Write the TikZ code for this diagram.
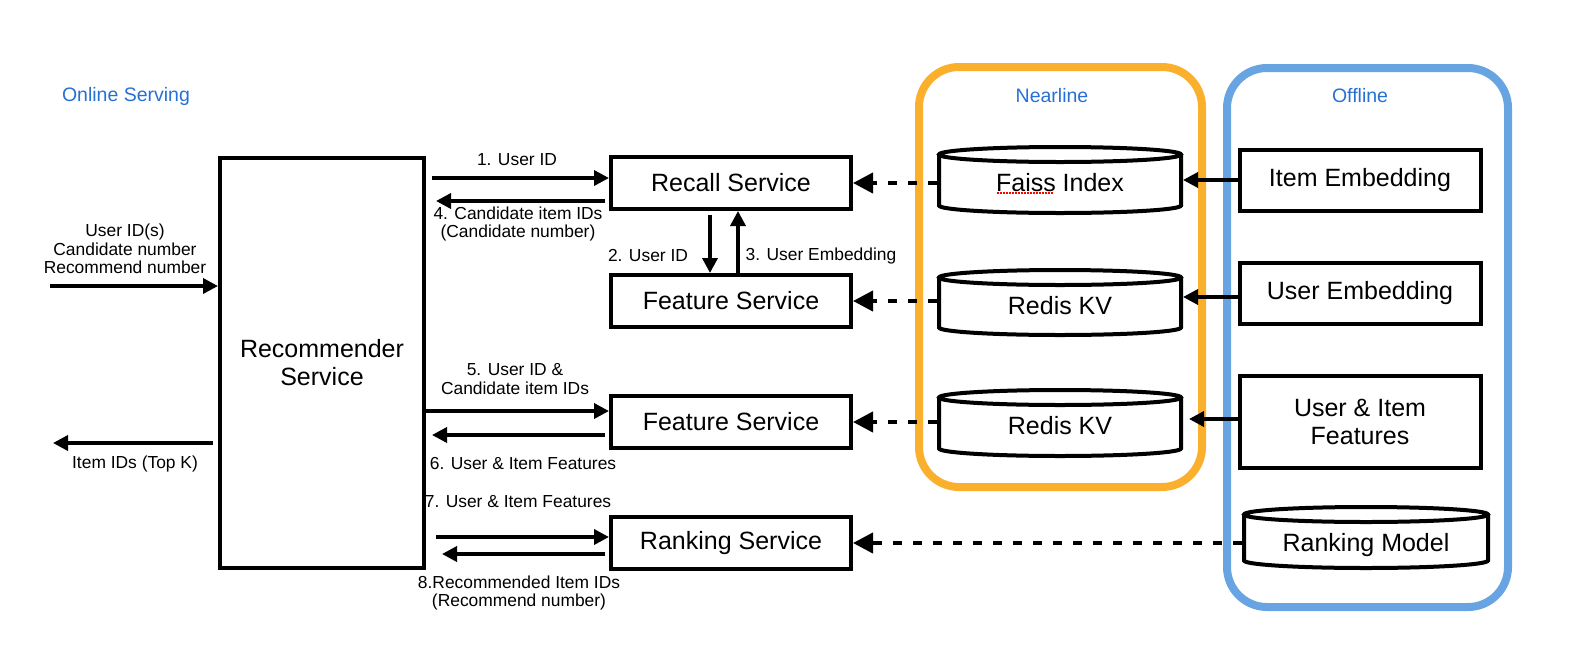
\documentclass[tikz,border=0pt]{standalone}
\usepackage{fontspec}
\setmainfont{Liberation Sans}
\usetikzlibrary{arrows.meta,calc}
\definecolor{hdrblue}{RGB}{38,112,212}
\definecolor{nearorange}{RGB}{250,176,45}
\definecolor{offblue}{RGB}{104,164,226}
% #1 name, #2 left, #3 right, #4 top, #5 bottom, #6 text offset, #7 text
\newcommand\dbcyl[7]{%
  \pgfmathsetmacro\cylcx{(#2+#3)/2}%
  \pgfmathsetmacro\cylrx{(#3-#2)/2}%
  \pgfmathsetmacro\cylcy{(#4+#5)/2+#6}%
  \pgfmathsetmacro\cylh{#5-#4}%
  \pgfmathsetmacro\cylw{#3-#2}%
  \draw[line width=4pt, fill=white] (#2,#4+7.5) -- (#2,#5-7.5) arc[start angle=180,end angle=360,x radius=\cylrx pt,y radius=7.5pt] -- (#3,#4+7.5);
  \draw[line width=4pt] (\cylcx,#4+7.5) ellipse[x radius=\cylrx pt, y radius=7.5pt];
  \node[cylt, minimum width=\cylw pt, minimum height=\cylh pt] (#1) at (\cylcx,\cylcy) {#7};
}
\begin{document}
\begin{tikzpicture}[x=1pt,y=-1pt,
  box/.style={draw, line width=4pt, minimum width=240pt, minimum height=52pt, inner sep=0pt, font=\fontsize{25}{28}\selectfont, align=center},
  cylt/.style={inner sep=0pt, outer sep=2pt, font=\fontsize{25}{28}\selectfont, align=center},
  lbl/.style={font=\fontsize{17.4}{18.5}\selectfont, align=center, inner sep=0pt},
  hdr/.style={font=\fontsize{19.5}{22}\selectfont, text=hdrblue, inner sep=0pt},
  arr/.style={line width=3.5pt, -{Triangle[length=15pt,width=15pt]}},
  darr/.style={line width=4pt, dash pattern=on 9pt off 11pt, -{Triangle[length=20pt,width=20pt]}},
]
\useasboundingbox (0,0) rectangle (1583,670);
% containers
\draw[nearorange, line width=8pt, rounded corners=40pt] (919,67) rectangle (1202,487);
\draw[offblue, line width=8pt, rounded corners=40pt] (1227,68) rectangle (1508,607);
% headers
\node[hdr] (hon) at (126,96) {Online Serving};
\node[hdr] (hnear) at (1052,96) {Nearline};
\node[hdr] (hoff) at (1360,96) {Offline};
% online nodes
\node[box, minimum width=204pt, minimum height=410pt] (rec) at (322,363) {Recommender\\Service};
\node[box] (recall) at (731,183) {Recall Service};
\node[box] (feat1) at (731,301) {Feature Service};
\node[box] (feat2) at (731,422) {Feature Service};
\node[box] (rank) at (731,543) {Ranking Service};
% nearline
\dbcyl{faiss}{939}{1181}{147}{213}{3}{Faiss Index}
\dbcyl{redisa}{939}{1181}{270}{335}{3}{Redis KV}
\dbcyl{redisb}{939}{1181}{390}{456}{3}{Redis KV}
\draw[red, line width=1.2pt, dash pattern=on 1.5pt off 1.5pt] (997,193) -- (1054,193);
% offline
\node[box, minimum width=241pt, minimum height=61pt] (itememb) at (1360,180) {Item Embedding};
\node[box, minimum width=241pt, minimum height=61pt] (useremb) at (1360,293) {User Embedding};
\node[box, minimum width=241pt, minimum height=92pt] (uifeat) at (1360,422) {User \& Item\\Features};
\dbcyl{rmodel}{1244}{1488}{507}{568}{8}{Ranking Model}
% input / output
\coordinate (inS) at (50,286);
\draw[arr] (inS) -- (inS -| rec.west);
\node[lbl] (inlbl) at (125,249) {User ID(s)\\Candidate number\\Recommend number};
\coordinate (outE) at (53,443);
\draw[arr] ([xshift=-5pt]outE -| rec.west) -- (outE);
\node[lbl] (outlbl) at (135,464) {Item IDs (Top K)};
% 1 and 4
\coordinate (a1) at (432,178);
\draw[arr] (a1) -- (a1 -| recall.west);
\node[lbl] (l1) at (517,160) {1. User ID};
\coordinate (a4) at (436,201);
\draw[arr] ([xshift=-4pt]a4 -| recall.west) -- (a4);
\node[lbl] (l4) at (518,224) {4. Candidate item IDs\\(Candidate number)};
% 2 and 3
\coordinate (x2) at (710,0);
\coordinate (x3) at (738,0);
\draw[arr] ([yshift=-4pt]recall.south -| x2) -- (feat1.north -| x2);
\draw[arr] (feat1.north -| x3) -- (recall.south -| x3);
\node[lbl] (l2) at (648,256) {2. User ID};
\node[lbl] (l3) at (821,256) {3. User Embedding};
% 5 and 6
\coordinate (a5) at (0,411);
\draw[arr] (a5 -| rec.east) -- (a5 -| feat2.west);
\node[lbl] (l5) at (515,379) {5. User ID \&\\Candidate item IDs};
\coordinate (a6) at (432,435);
\draw[arr] ([xshift=-4pt]a6 -| feat2.west) -- (a6);
\node[lbl] (l6) at (523,464) {6. User \& Item Features};
% 7 and 8
\coordinate (a7) at (436,537);
\draw[arr] (a7) -- (a7 -| rank.west);
\node[lbl] (l7) at (518,502) {7. User \& Item Features};
\coordinate (a8) at (442,554);
\draw[arr] ([xshift=-4pt]a8 -| rank.west) -- (a8);
\node[lbl] (l8) at (519,593) {8.Recommended Item IDs\\(Recommend number)};
% dashed from nearline / offline model
\draw[darr] (faiss.west) -- (faiss.west -| recall.east);
\draw[darr] (redisa.west |- feat1) -- (feat1.east);
\draw[darr] (redisb.west |- feat2) -- (feat2.east);
\draw[darr] (rmodel.west |- rank) -- (rank.east);
% offline to nearline
\draw[arr] (itememb.west) -- (itememb.west -| faiss.east);
\draw[arr] ([yshift=-4pt]useremb.west) -- ([yshift=-4pt]useremb.west -| redisa.east);
\coordinate (a13) at (0,419);
\draw[arr] ([xshift=2pt]a13 -| uifeat.west) -- ([xshift=6pt]a13 -| redisb.east);
\end{tikzpicture}
\end{document}
